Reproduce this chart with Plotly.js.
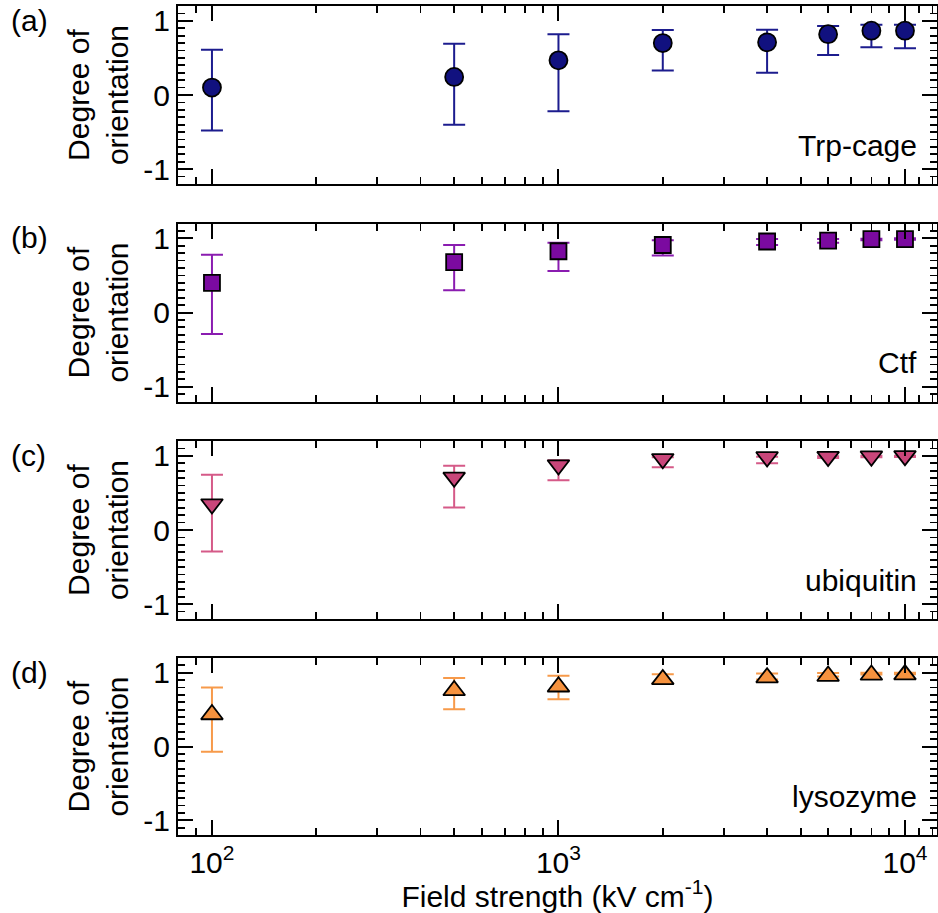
<!DOCTYPE html>
<html>
<head>
<meta charset="utf-8">
<script src="https://cdn.plot.ly/plotly-3.0.1.min.js"></script>
<style>html,body{margin:0;padding:0;background:#fff;}#chart{width:938px;height:913px;}</style>
</head>
<body>
<div id="chart"></div>
<script>
// Field strength (kV/cm)
const fieldStrength = [100, 500, 1000, 2000, 4000, 6000, 8000, 10000];

// (a) Trp-cage
const trpMean  = [0.10, 0.244, 0.467, 0.70, 0.71, 0.82, 0.867, 0.867];
const trpUpper = [0.61, 0.69, 0.82, 0.876, 0.88, 0.93, 0.947, 0.947];
const trpLower = [-0.48, -0.40, -0.22, 0.33, 0.30, 0.54, 0.644, 0.63];

// (b) Ctf
const ctfMean  = [0.40, 0.68, 0.826, 0.91, 0.957, 0.97, 0.99, 0.99];
const ctfUpper = [0.78, 0.91, 0.94, 0.975, 0.99, 0.99, 0.995, 1.0];
const ctfLower = [-0.29, 0.30, 0.56, 0.77, 0.91, 0.94, 0.975, 0.98];

// (c) ubiquitin
const ubqMean  = [0.35, 0.71, 0.876, 0.96, 0.985, 0.99, 0.995, 1.0];
const ubqUpper = [0.745, 0.867, 0.94, 0.98, 0.988, 0.995, 1.0, 1.0];
const ubqLower = [-0.29, 0.305, 0.67, 0.845, 0.90, 0.97, 0.98, 0.985];

// (d) lysozyme
const lysMean  = [0.434, 0.76, 0.81, 0.91, 0.934, 0.955, 0.97, 0.975];
const lysUpper = [0.80, 0.93, 0.96, 0.98, 0.99, 0.995, 1.0, 1.0];
const lysLower = [-0.07, 0.505, 0.64, 0.857, 0.91, 0.95, 0.975, 0.98];

const proteinNames = ['Trp-cage', 'Ctf', 'ubiquitin', 'lysozyme'];
const panelLetters = ['(a)', '(b)', '(c)', '(d)'];
const xTickVals = [100, 1000, 10000];
const xTickText = ['10<sup>2</sup>', '10<sup>3</sup>', '10<sup>4</sup>'];
const xMinorVals = [80, 90, 200, 300, 400, 500, 600, 700, 800, 900, 2000, 3000, 4000, 5000, 6000, 7000, 8000, 9000, 11000, 12000];
const yTickVals = [-1, 0, 1];
const yTickText = ['-1', '0', '1'];

const FONT = 'Liberation Sans, Arial, sans-serif';
const FS = 30;

const series = [
  {mean: trpMean, up: trpUpper, lo: trpLower, color: '#11117f', ecolor: '#1c1c8e', symbol: 'circle', size: 18},
  {mean: ctfMean, up: ctfUpper, lo: ctfLower, color: '#7b0aa0', ecolor: '#8a1cb0', symbol: 'square', size: 16},
  {mean: ubqMean, up: ubqUpper, lo: ubqLower, color: '#c9467a', ecolor: '#d55a88', symbol: 'triangle-down', size: 19},
  {mean: lysMean, up: lysUpper, lo: lysLower, color: '#f6923e', ecolor: '#f79a4a', symbol: 'triangle-up', size: 19}
];

const traces = series.map((s, i) => ({
  type: 'scatter', mode: 'markers',
  x: fieldStrength, y: s.mean,
  xaxis: i === 0 ? 'x' : 'x' + (i + 1),
  yaxis: i === 0 ? 'y' : 'y' + (i + 1),
  name: proteinNames[i],
  marker: {symbol: s.symbol, size: s.size, color: s.color, line: {color: '#000', width: 1.8}},
  error_y: {
    type: 'data', symmetric: false,
    array: s.up.map((u, k) => u - s.mean[k]),
    arrayminus: s.mean.map((m, k) => m - s.lo[k]),
    color: s.ecolor, thickness: 2, width: 11
  },
  showlegend: false
}));

// Plot area: left 178, right 937, top 6, bottom 835
const L = 178, R = 1, T = 6, B = 78, H = 913 - T - B;
const panelPx = [[6, 184], [223.5, 401.5], [441, 619], [658, 835]];
const toPaper = py => (913 - B - py) / H;

const layout = {
  width: 938, height: 913,
  margin: {l: L, r: R, t: T, b: B},
  paper_bgcolor: '#fff', plot_bgcolor: '#fff',
  font: {family: FONT, size: FS, color: '#000'},
  showlegend: false,
  annotations: []
};

for (let i = 0; i < 4; i++) {
  const xs = i === 0 ? '' : String(i + 1);
  const dom = [toPaper(panelPx[i][1]), toPaper(panelPx[i][0])];
  const xa = {
    type: 'log', range: [1.902, 4.0924], anchor: 'y' + xs,
    tickmode: 'array', tickvals: xTickVals, ticktext: xTickText,
    showticklabels: i === 3,
    ticks: 'inside', ticklen: 15, tickwidth: 2, tickcolor: '#000',
    minor: {tickmode: 'array', tickvals: xMinorVals, ticklen: 7, tickwidth: 1.8, tickcolor: '#000', ticks: 'inside'},
    mirror: 'allticks', showline: true, linecolor: '#000', linewidth: 2,
    showgrid: false, zeroline: false,
    tickfont: {family: FONT, size: FS}
  };
  if (i === 3) {
    xa.title = {text: 'Field strength (kV cm<sup>-1</sup>)', font: {family: FONT, size: FS}, standoff: 4};
  }
  layout['xaxis' + xs] = xa;
  layout['yaxis' + xs] = {
    domain: dom, range: [-1.2, 1.2], anchor: 'x' + xs,
    tickmode: 'array', tickvals: yTickVals, ticktext: yTickText,
    ticks: 'inside', ticklen: 15, tickwidth: 2, tickcolor: '#000',
    minor: {dtick: 0.1, tick0: 0, ticklen: 7, tickwidth: 1.8, tickcolor: '#000', ticks: 'inside'},
    mirror: 'allticks', showline: true, linecolor: '#000', linewidth: 2,
    showgrid: false, zeroline: false,
    tickfont: {family: FONT, size: FS},
    ticklabelstandoff: 0,
    title: {text: 'Degree of<br>orientation', font: {family: FONT, size: FS}, standoff: 6}
  };
  layout.annotations.push({
    xref: 'paper', yref: 'paper', x: (9 - L) / 759, y: toPaper(panelPx[i][0] + 14),
    xanchor: 'left', yanchor: 'middle', showarrow: false,
    text: panelLetters[i], font: {family: FONT, size: FS}
  });
  layout.annotations.push({
    xref: 'x' + xs + ' domain', yref: 'y' + xs + ' domain', x: (919 - L) / 759, y: 0.115,
    xanchor: 'right', yanchor: 'bottom', showarrow: false,
    text: proteinNames[i], font: {family: FONT, size: FS}
  });
}

Plotly.newPlot('chart', traces, layout, {staticPlot: true, displayModeBar: false});
</script>
</body>
</html>
